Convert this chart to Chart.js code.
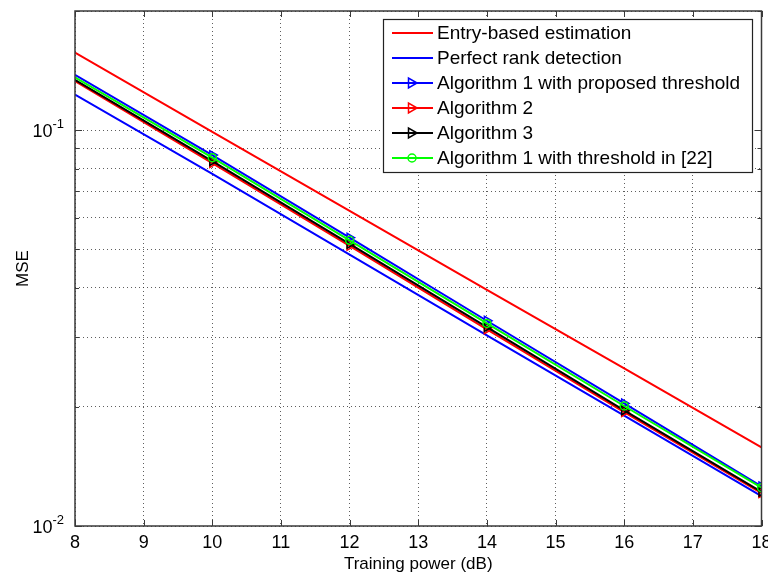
<!DOCTYPE html>
<html>
<head>
<meta charset="utf-8">
<script src="https://cdn.jsdelivr.net/npm/chart.js@4.4.1/dist/chart.umd.min.js"></script>
<style>
  html, body { margin: 0; padding: 0; background: #fff; }
  canvas { display: block; }
</style>
</head>
<body>
<canvas id="mse" width="768" height="573"></canvas>
<script>
// training power in dB
const power = [8, 10, 12, 14, 16, 18];

// MSE for each scheme
const entryBased   = [0.157, 0.099, 0.0625, 0.0395, 0.0250, 0.0158];
const perfectRank  = [0.123, 0.0775, 0.0485, 0.0303, 0.0190, 0.0119];
const alg1Proposed = [0.138, 0.0865, 0.0535, 0.0330, 0.0204, 0.0126];
const alg2         = [0.133, 0.0826, 0.0510, 0.0314, 0.0194, 0.0121];
const alg3         = [0.134, 0.0835, 0.0516, 0.0318, 0.0196, 0.0122];
const alg1Ref22    = [0.136, 0.0852, 0.0527, 0.0325, 0.0201, 0.0125];

const seriesNames = [
  'Entry-based estimation',
  'Perfect rank detection',
  'Algorithm 1 with proposed threshold',
  'Algorithm 2',
  'Algorithm 3',
  'Algorithm 1 with threshold in [22]'
];

const xTicks = [8, 9, 10, 11, 12, 13, 14, 15, 16, 17, 18];
const yGrid = [0.01, 0.02, 0.03, 0.04, 0.05, 0.06, 0.07, 0.08, 0.09, 0.1, 0.2];
const yLabels = [{ v: 0.1, exp: '-1' }, { v: 0.01, exp: '-2' }];

const FONT = '"Liberation Sans", Arial, sans-serif';
const markerRadius = [0, 5, 5, 5, 5, 5];

function series(i, data, color, marker) {
  return {
    label: seriesNames[i],
    data: data,
    borderColor: color,
    backgroundColor: 'rgba(0,0,0,0)',
    borderWidth: 2,
    pointStyle: marker || false,
    pointRotation: marker === 'triangle' ? 90 : 0,
    pointRadius: marker ? (marker === 'circle' ? markerRadius.map(r => r && 4) : markerRadius) : 0,
    pointBorderColor: color,
    pointBorderWidth: 1.5,
    pointBackgroundColor: 'rgba(0,0,0,0)',
    order: 5 - i,
    tension: 0
  };
}

const datasets = [
  series(0, entryBased, '#ff0000'),
  series(1, perfectRank, '#0000ff'),
  series(2, alg1Proposed, '#0000ff', 'triangle'),
  series(3, alg2, '#ff0000', 'triangle'),
  series(4, alg3, '#000000', 'triangle'),
  series(5, alg1Ref22, '#00ff00', 'circle')
];

function drawMarker(ctx, style, x, y, color) {
  ctx.save();
  ctx.strokeStyle = color;
  ctx.lineWidth = 1.5;
  ctx.beginPath();
  if (style === 'triangle') {
    ctx.moveTo(x + 5, y);
    ctx.lineTo(x - 3.5, y - 5);
    ctx.lineTo(x - 3.5, y + 5);
    ctx.closePath();
  } else {
    ctx.arc(x, y, 4, 0, Math.PI * 2);
  }
  ctx.stroke();
  ctx.restore();
}

const matlabFrame = {
  id: 'matlabFrame',
  beforeDraw(chart) {
    const ctx = chart.ctx;
    ctx.save();
    ctx.fillStyle = '#fff';
    ctx.fillRect(0, 0, chart.width, chart.height);
    ctx.restore();
  },
  afterDraw(chart) {
    const { ctx, chartArea: a, scales: { x, y } } = chart;
    ctx.save();

    // axes box
    ctx.strokeStyle = '#3a3a3a';
    ctx.lineWidth = 1.5;
    ctx.strokeRect(a.left, a.top, a.right - a.left, a.bottom - a.top);

    // inward tick marks
    ctx.lineWidth = 1;
    ctx.beginPath();
    xTicks.forEach(v => {
      const px = Math.round(x.getPixelForValue(v)) + 0.5;
      ctx.moveTo(px, a.bottom); ctx.lineTo(px, a.bottom - 6);
      ctx.moveTo(px, a.top); ctx.lineTo(px, a.top + 6);
    });
    yGrid.forEach(v => {
      const py = Math.round(y.getPixelForValue(v)) + 0.5;
      const len = (v === 0.1 || v === 0.01) ? 7 : 4;
      ctx.moveTo(a.left, py); ctx.lineTo(a.left + len, py);
      ctx.moveTo(a.right, py); ctx.lineTo(a.right - len, py);
    });
    ctx.stroke();

    // y tick labels as powers of ten
    ctx.fillStyle = '#000';
    ctx.textBaseline = 'alphabetic';
    yLabels.forEach(l => {
      const py = y.getPixelForValue(l.v);
      ctx.font = '13px ' + FONT;
      const ew = ctx.measureText(l.exp).width;
      ctx.textAlign = 'right';
      ctx.fillText(l.exp, a.left - 11, py - 2);
      ctx.font = '18px ' + FONT;
      ctx.fillText('10', a.left - 11 - ew, py + 7);
    });

    // axis titles
    ctx.font = '17px ' + FONT;
    ctx.textAlign = 'center';
    ctx.fillText('Training power (dB)', (a.left + a.right) / 2, 569);
    ctx.save();
    ctx.translate(28, (a.top + a.bottom) / 2);
    ctx.rotate(-Math.PI / 2);
    ctx.fillText('MSE', 0, 0);
    ctx.restore();

    // legend
    const box = { l: 383.5, t: 19.5, r: 752.5, b: 172.5 };
    ctx.fillStyle = '#fff';
    ctx.fillRect(box.l, box.t, box.r - box.l, box.b - box.t);
    ctx.strokeStyle = '#222';
    ctx.lineWidth = 1.2;
    ctx.strokeRect(box.l, box.t, box.r - box.l, box.b - box.t);
    ctx.font = '19px ' + FONT;
    ctx.textAlign = 'left';
    ctx.textBaseline = 'middle';
    chart.data.datasets.forEach((ds, i) => {
      const ly = 33 + i * 25;
      ctx.strokeStyle = ds.borderColor;
      ctx.lineWidth = 2;
      ctx.beginPath();
      ctx.moveTo(392, ly); ctx.lineTo(433, ly);
      ctx.stroke();
      if (ds.pointStyle) drawMarker(ctx, ds.pointStyle, 412, ly, ds.borderColor);
      ctx.fillStyle = '#000';
      ctx.fillText(ds.label, 437, ly + 1);
    });

    ctx.restore();
  }
};

const gridStyle = {
  color: 'rgba(40,40,40,0.75)',
  lineWidth: 1,
  drawTicks: false
};

new Chart(document.getElementById('mse'), {
  type: 'line',
  data: { labels: power, datasets: datasets },
  options: {
    responsive: false,
    animation: false,
    devicePixelRatio: 1,
    layout: { padding: { left: 0, top: 11, right: 6, bottom: 0 } },
    plugins: { legend: { display: false }, tooltip: { enabled: false } },
    elements: { line: { borderJoinStyle: 'round' } },
    scales: {
      x: {
        type: 'linear',
        min: 8,
        max: 18,
        afterBuildTicks: s => { s.ticks = xTicks.map(v => ({ value: v })); },
        afterFit: s => { s.height = 47; s.paddingLeft = 0; s.paddingRight = 0; },
        border: { display: false, dash: [1, 3] },
        grid: Object.assign({}, gridStyle),
        ticks: {
          color: '#000',
          font: { family: FONT, size: 18 },
          padding: 6,
          maxRotation: 0,
          autoSkip: false
        }
      },
      y: {
        type: 'logarithmic',
        min: 0.01,
        max: 0.2,
        afterBuildTicks: s => { s.ticks = yGrid.map(v => ({ value: v })); },
        afterFit: s => { s.width = 75; s.paddingTop = 0; s.paddingBottom = 0; },
        border: { display: false, dash: [1, 3] },
        grid: Object.assign({}, gridStyle),
        ticks: { display: false }
      }
    }
  },
  plugins: [matlabFrame]
});
</script>
</body>
</html>
